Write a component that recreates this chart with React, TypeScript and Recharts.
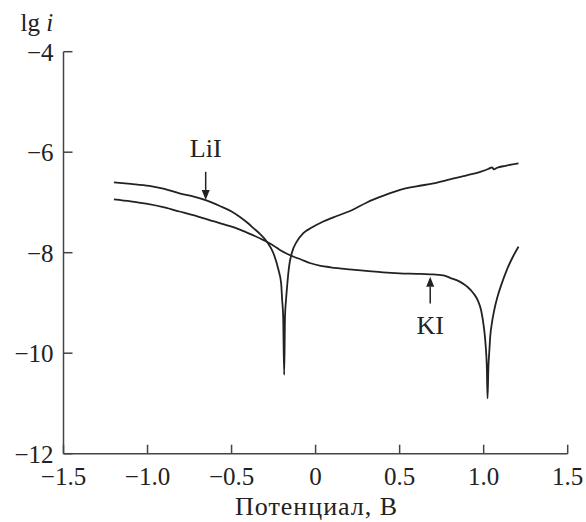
import React from 'react';
import { LineChart, Line, XAxis, YAxis, ReferenceLine, ReferenceDot } from 'recharts';

// Polarization curve in LiI melt: potential (V) and lg i
const liiPotential = [
  -1.2, -1.1, -0.99, -0.9, -0.81, -0.73, -0.65, -0.57, -0.5, -0.45, -0.4, -0.37, -0.33, -0.29, -0.251,
  -0.221, -0.205, -0.199, -0.193, -0.187, -0.182, -0.176, -0.168, -0.158, -0.142, -0.112, -0.073, -0.023,
  0.046, 0.126, 0.205, 0.305, 0.4, 0.503, 0.6, 0.701, 0.8, 0.9, 0.98, 1.03, 1.05, 1.06, 1.08, 1.13, 1.207,
];
const liiLogCurrent = [
  -6.6, -6.63, -6.67, -6.73, -6.82, -6.88, -6.96, -7.07, -7.18, -7.29, -7.42, -7.51, -7.63, -7.78, -8.01,
  -8.34, -8.61, -8.94, -9.27, -10.43, -9.27, -8.94, -8.61, -8.28, -8.01, -7.78, -7.61, -7.5,
  -7.38, -7.27, -7.17, -7.0, -6.87, -6.75, -6.68, -6.62, -6.54, -6.46, -6.39, -6.33, -6.3, -6.34, -6.31, -6.27, -6.22,
];

// Polarization curve in KI melt
const kiPotential = [
  -1.2, -1.1, -1.0, -0.9, -0.81, -0.7, -0.61, -0.52, -0.45, -0.38, -0.31, -0.25, -0.21, -0.13, -0.09,
  -0.03, 0.03, 0.09, 0.2, 0.3, 0.4, 0.5, 0.6, 0.68, 0.76, 0.8, 0.86, 0.9, 0.94, 0.965, 0.985, 1.0, 1.012,
  1.019, 1.023, 1.028, 1.034, 1.039, 1.049, 1.063, 1.082, 1.108, 1.138, 1.174, 1.207,
];
const kiLogCurrent = [
  -6.94, -6.98, -7.03, -7.1, -7.18, -7.28, -7.37, -7.46, -7.54, -7.64, -7.75, -7.86, -7.95, -8.08, -8.13,
  -8.21, -8.26, -8.29, -8.33, -8.36, -8.39, -8.41, -8.42, -8.43, -8.45, -8.5, -8.58, -8.67, -8.81, -8.95, -9.15, -9.45, -9.85,
  -10.3, -10.9, -10.3, -9.94, -9.67, -9.4, -9.14, -8.88, -8.61, -8.34, -8.08, -7.88,
];

const xTicks = [-1.5, -1.0, -0.5, 0, 0.5, 1.0, 1.5];
const yTicks = [-12, -10, -8, -6, -4];

// Curve labels: potential, arrow tail, arrow head, text baseline
const liiMarker = { x: -0.654, tail: -6.39, head: -6.95, text: -6.1 };
const kiMarker = { x: 0.682, tail: -9.01, head: -8.48, text: -9.61 };

const liiData = liiPotential.map((x, i) => ({ x, y: liiLogCurrent[i] }));
const kiData = kiPotential.map((x, i) => ({ x, y: kiLogCurrent[i] }));

const INK = '#222';
const AXIS = '#444';
const FONT = '"Liberation Serif", "Times New Roman", serif';

const fmtX = (v: number) => {
  const s = v === 0 ? '0' : Math.abs(v).toFixed(1);
  return v < 0 ? '\u2212' + s : s;
};
const fmtY = (v: number) => (v < 0 ? '\u2212' + Math.abs(v) : String(v));

const Arrow = (props: any) => {
  const { x1, y1, x2, y2 } = props;
  const dir = y2 > y1 ? 1 : -1;
  const headLen = 10;
  const half = 4;
  return (
    <g>
      <line x1={x1} y1={y1} x2={x2} y2={y2 - dir * headLen} stroke={INK} strokeWidth={1.5} />
      <polygon
        points={`${x2},${y2} ${x2 - half},${y2 - dir * headLen} ${x2 + half},${y2 - dir * headLen}`}
        fill={INK}
      />
    </g>
  );
};

const makeText = (txt: string) => (props: any) => (
  <text x={props.cx} y={props.cy} textAnchor="middle" fontSize={26} fontFamily={FONT} fill={INK}>
    {txt}
  </text>
);

const YTitle = (props: any) => {
  const vb = props.viewBox || { x: 0, y: 52 };
  return (
    <text x={vb.x + 20.5} y={vb.y - 21} fontSize={25} fontFamily={FONT} fill={INK}>
      lg <tspan fontStyle="italic">i</tspan>
    </text>
  );
};

const XTitle = (props: any) => {
  const vb = props.viewBox || { x: 63.5, y: 453.7, width: 504, height: 68.3 };
  return (
    <text
      x={vb.x + vb.width / 2 + 1}
      y={vb.y + vb.height - 7}
      textAnchor="middle"
      fontSize={26}
      letterSpacing={1}
      fontFamily={FONT}
      fill={INK}
    >
      Потенциал, В
    </text>
  );
};

export default function App() {
  return (
    <div style={{ position: 'absolute', left: 0, top: 0, width: 586, height: 522, background: '#fff' }}>
      <LineChart
        width={586}
        height={522}
        margin={{ top: 51.7, right: 18.3, bottom: 0, left: 0 }}
        style={{ fontFamily: FONT }}
      >
        <XAxis
          dataKey="x"
          type="number"
          domain={[-1.5, 1.5]}
          ticks={xTicks}
          tickFormatter={fmtX}
          height={68.3}
          tickSize={-9}
          tickMargin={23}
          axisLine={{ stroke: AXIS, strokeWidth: 1.5 }}
          tickLine={{ stroke: AXIS, strokeWidth: 1.5 }}
          tick={{ fontSize: 25, fill: INK, fontFamily: FONT }}
          label={{ content: XTitle }}
        />
        <YAxis
          type="number"
          domain={[-12, -4]}
          ticks={yTicks}
          tickFormatter={fmtY}
          width={63.5}
          tickSize={-9}
          tickMargin={19}
          axisLine={{ stroke: AXIS, strokeWidth: 1.5 }}
          tickLine={{ stroke: AXIS, strokeWidth: 1.5 }}
          tick={{ fontSize: 25, fill: INK, fontFamily: FONT }}
          label={{ content: YTitle }}
        />
        <Line
          data={liiData}
          dataKey="y"
          type="monotone"
          stroke={INK}
          strokeWidth={1.8}
          dot={false}
          activeDot={false}
          isAnimationActive={false}
        />
        <Line
          data={kiData}
          dataKey="y"
          type="monotone"
          stroke={INK}
          strokeWidth={1.8}
          dot={false}
          activeDot={false}
          isAnimationActive={false}
        />
        <ReferenceLine
          segment={[{ x: liiMarker.x, y: liiMarker.tail }, { x: liiMarker.x, y: liiMarker.head }]}
          shape={Arrow}
        />
        <ReferenceLine
          segment={[{ x: kiMarker.x, y: kiMarker.tail }, { x: kiMarker.x, y: kiMarker.head }]}
          shape={Arrow}
        />
        <ReferenceDot x={liiMarker.x} y={liiMarker.text} shape={makeText('LiI')} />
        <ReferenceDot x={kiMarker.x} y={kiMarker.text} shape={makeText('KI')} />
      </LineChart>
    </div>
  );
}
